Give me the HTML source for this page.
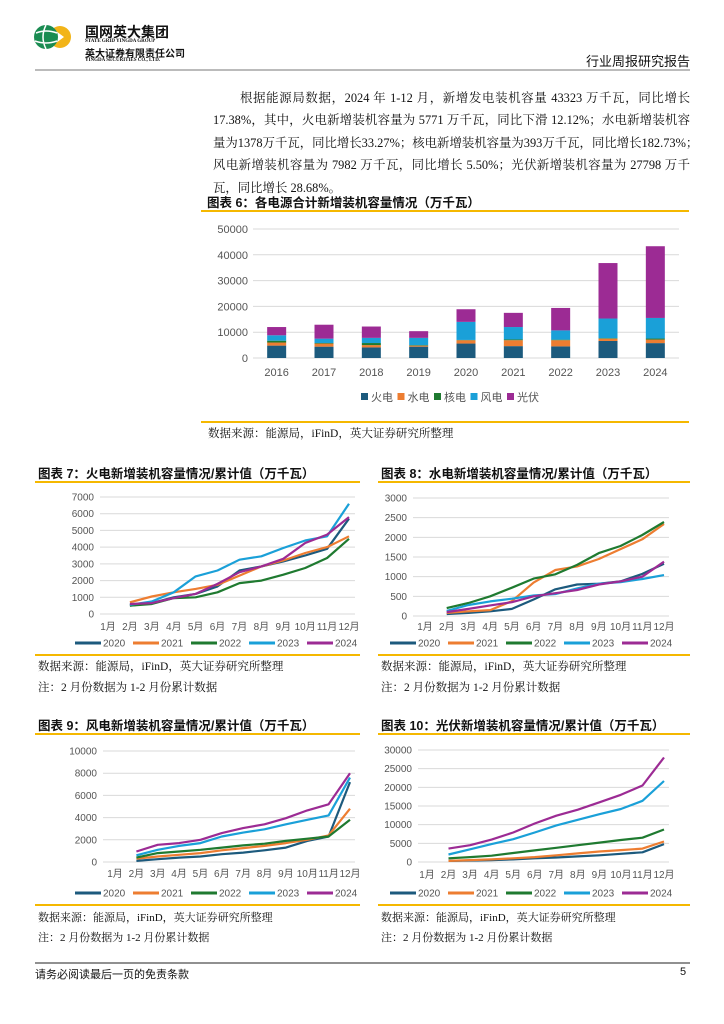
<!DOCTYPE html>
<html><head><meta charset="utf-8">
<style>
body{margin:0;background:#fff;}
#pg{position:relative;width:724px;height:1024px;overflow:hidden;font-family:"Liberation Serif","Noto Serif CJK SC",serif;color:#111;}
.a{position:absolute;white-space:nowrap;}
.p{position:absolute;left:213px;width:477px;font-size:12.4px;text-align:justify;text-align-last:justify;white-space:nowrap;}
.t{position:absolute;font-family:"Liberation Sans","Noto Sans CJK SC",sans-serif;font-weight:bold;font-size:12.5px;}
.y{position:absolute;height:2px;background:#f5b800;}
.s{position:absolute;font-size:11.5px;}
svg text{font-family:"Liberation Sans","Noto Sans CJK SC",sans-serif;fill:#555;}
</style></head><body>
<div id="pg">
<svg class="a" style="left:0;top:0" width="724" height="1024">
  <g>
    <circle cx="60" cy="37" r="11" fill="#f2b418"/>
    <polygon points="56,31 64,37 56,43" fill="#fff"/>
    <circle cx="46" cy="37" r="12" fill="#1a8c52"/>
    <path d="M36,33 Q46,29 57,33 M35,41 Q46,45 57,41 M46,25 Q40,37 46,49" stroke="#fff" stroke-width="1.5" fill="none"/>
  </g>
  <line x1="35" y1="70" x2="690" y2="70" stroke="#777" stroke-width="1"/>
  <line x1="35" y1="963" x2="690" y2="963" stroke="#222" stroke-width="1"/>
  <g id="c6"></g>
  <g id="c7"></g>
  <g id="c8"></g>
  <g id="c9"></g>
  <g id="c10"></g>
</svg>
<div class="a" style="left:85px;top:22px;font-family:'Liberation Sans','Noto Sans CJK SC',sans-serif;font-weight:bold;font-size:14px;">国网英大集团</div>
<div class="a" style="left:85px;top:39px;font-size:5px;font-weight:bold;">STATE GRID YINGDA GROUP</div>
<div class="a" style="left:85px;top:45px;font-family:'Liberation Sans','Noto Sans CJK SC',sans-serif;font-weight:bold;font-size:10px;">英大证券有限责任公司</div>
<div class="a" style="left:85px;top:58px;font-size:5px;font-weight:bold;">YINGDA SECURITIES CO., LTD.</div>
<div class="a" style="left:586px;top:51px;font-family:'Liberation Sans','Noto Sans CJK SC',sans-serif;font-size:13px;">行业周报研究报告</div>

<div class="p" style="top:88px;text-indent:27px;">根据能源局数据，2024 年 1-12 月，新增发电装机容量 43323 万千瓦，同比增长</div>
<div class="p" style="top:110px;">17.38%，其中，火电新增装机容量为 5771 万千瓦，同比下滑 12.12%；水电新增装机容</div>
<div class="p" style="top:133px;">量为1378万千瓦，同比增长33.27%；核电新增装机容量为393万千瓦，同比增长182.73%；</div>
<div class="p" style="top:155px;">风电新增装机容量为 7982 万千瓦，同比增长 5.50%；光伏新增装机容量为 27798 万千</div>
<div class="p" style="top:178px;text-align-last:left;">瓦，同比增长 28.68%。</div>

<div class="t" style="left:207px;top:192px;">图表 6：各电源合计新增装机容量情况（万千瓦）</div>
<div class="y" style="left:201px;top:210px;width:488px;"></div>
<div class="y" style="left:201px;top:421px;width:488px;"></div>
<div class="s" style="left:208px;top:425px;">数据来源：能源局，iFinD，英大证券研究所整理</div>

<div class="t" style="left:38px;top:463px;">图表 7：火电新增装机容量情况/累计值（万千瓦）</div>
<div class="y" style="left:35px;top:481px;width:325px;"></div>
<div class="y" style="left:35px;top:654px;width:325px;"></div>
<div class="s" style="left:38px;top:658px;">数据来源：能源局，iFinD，英大证券研究所整理</div>
<div class="s" style="left:38px;top:679px;">注：2 月份数据为 1-2 月份累计数据</div>

<div class="t" style="left:381px;top:463px;">图表 8：水电新增装机容量情况/累计值（万千瓦）</div>
<div class="y" style="left:378px;top:481px;width:312px;"></div>
<div class="y" style="left:378px;top:654px;width:312px;"></div>
<div class="s" style="left:381px;top:658px;">数据来源：能源局，iFinD，英大证券研究所整理</div>
<div class="s" style="left:381px;top:679px;">注：2 月份数据为 1-2 月份累计数据</div>

<div class="t" style="left:38px;top:715px;">图表 9：风电新增装机容量情况/累计值（万千瓦）</div>
<div class="y" style="left:35px;top:733px;width:325px;"></div>
<div class="y" style="left:35px;top:904px;width:325px;"></div>
<div class="s" style="left:38px;top:909px;font-size:11px;">数据来源：能源局，iFinD，英大证券研究所整理</div>
<div class="s" style="left:38px;top:929px;font-size:11px;">注：2 月份数据为 1-2 月份累计数据</div>

<div class="t" style="left:381px;top:715px;">图表 10：光伏新增装机容量情况/累计值（万千瓦）</div>
<div class="y" style="left:378px;top:733px;width:312px;"></div>
<div class="y" style="left:378px;top:904px;width:312px;"></div>
<div class="s" style="left:381px;top:909px;font-size:11px;">数据来源：能源局，iFinD，英大证券研究所整理</div>
<div class="s" style="left:381px;top:929px;font-size:11px;">注：2 月份数据为 1-2 月份累计数据</div>

<div class="a" style="left:35px;top:966px;font-family:'Liberation Sans','Noto Sans CJK SC',sans-serif;font-size:11px;">请务必阅读最后一页的免责条款</div>
<div class="a" style="left:680px;top:966px;font-family:'Liberation Sans',sans-serif;font-size:11px;">5</div>
</div>
<script>
const years6 = ['2016','2017','2018','2019','2020','2021','2022','2023','2024'];
const thermal6 = [4800,4400,4100,4400,5600,4600,4500,6600,5771];
const hydro6 = [1200,1200,900,400,1300,2300,2400,900,1378];
const nuclear6 = [700,200,800,200,100,300,200,200,393];
const wind6 = [2100,1700,2000,2800,7000,4800,3600,7600,7982];
const solar6 = [3200,5400,4400,2600,4900,5500,8700,21500,27798];
const ticks6 = [0,10000,20000,30000,40000,50000];
const seriesNames6 = ['火电','水电','核电','风电','光伏'];

const months = ['1月','2月','3月','4月','5月','6月','7月','8月','9月','10月','11月','12月'];
const lineYears = ['2020','2021','2022','2023','2024'];
const thermal2020 = [500,650,1000,1200,1650,2600,2850,3150,3500,3900,5700];
const thermal2021 = [700,1050,1300,1500,1750,2300,2850,3200,3650,4000,4650];
const thermal2022 = [500,600,950,1000,1300,1850,2000,2350,2750,3350,4500];
const thermal2023 = [550,750,1300,2250,2600,3250,3450,3950,4400,4650,6600];
const thermal2024 = [600,650,950,1200,1800,2500,2850,3300,4250,4750,5800];
const hydro2020 = [50,80,120,180,420,680,800,820,880,1070,1330];
const hydro2021 = [80,120,150,380,850,1170,1260,1450,1700,1950,2340];
const hydro2022 = [200,330,500,720,950,1060,1300,1600,1780,2060,2390];
const hydro2023 = [130,280,370,440,520,560,700,820,860,940,1040];
const hydro2024 = [100,180,270,350,500,580,660,800,880,1000,1380];
const wind2020 = [100,250,400,500,700,850,1050,1300,1900,2300,7200];
const wind2021 = [300,500,650,800,1050,1250,1450,1700,2000,2400,4800];
const wind2022 = [400,800,950,1100,1300,1500,1650,1900,2100,2300,3800];
const wind2023 = [600,1100,1450,1700,2300,2650,2950,3400,3800,4200,7600];
const wind2024 = [950,1550,1700,2000,2600,3050,3400,3950,4650,5200,8000];
const solar2020 = [300,400,500,700,1000,1200,1500,1800,2200,2600,4800];
const solar2021 = [300,500,700,1000,1300,1800,2300,2800,3200,3600,5500];
const solar2022 = [1000,1300,1700,2400,3100,3800,4500,5200,5900,6500,8700];
const solar2023 = [2000,3400,4800,6100,7900,9800,11300,12800,14200,16400,21700];
const solar2024 = [3600,4500,6000,7900,10300,12400,14000,16000,18000,20500,28000];
const ticks7 = [0,1000,2000,3000,4000,5000,6000,7000];
const ticks8 = [0,500,1000,1500,2000,2500,3000];
const ticks9 = [0,2000,4000,6000,8000,10000];
const ticks10 = [0,5000,10000,15000,20000,25000,30000];

const NS='http://www.w3.org/2000/svg';
const COLORS=['#1c5a7d','#ed7d31','#1f7a30','#1aa0d8','#9c2b94'];
function mk(parent,tag,attrs){const e=document.createElementNS(NS,tag);for(const k in attrs)e.setAttribute(k,attrs[k]);parent.appendChild(e);return e;}

(function(){
  const g=document.getElementById('c6');
  const x0=253,x1=679,y0=358,yTop=229,max=50000;
  const ys=v=>y0-(v/max)*(y0-yTop);
  const step=(x1-x0)/years6.length;
  const xc=i=>x0+step*(i+0.5);
  ticks6.forEach(t=>{
    const l=mk(g,'line',{x1:x0,x2:x1,y1:ys(t),y2:ys(t),stroke:'#d9d9d9','stroke-width':1});
    
    
    const tx=mk(g,'text',{x:248,y:ys(t)+4,'font-size':11,'text-anchor':'end'});tx.textContent=t;
    
    
  });
  const series=[thermal6,hydro6,nuclear6,wind6,solar6];
  years6.forEach((yr,i)=>{
    let acc=0;
    series.forEach((s,k)=>{
      const r=mk(g,'rect',{x:xc(i)-9.5,width:19,y:ys(acc+s[i]),height:ys(acc)-ys(acc+s[i]),fill:COLORS[k]});
      
      
      acc+=s[i];
    });
    const tx=mk(g,'text',{x:xc(i),y:376,'font-size':11,'text-anchor':'middle'});tx.textContent=yr;
    
    
  });
  let lx=361;
  seriesNames6.forEach((n,k)=>{
    const r=mk(g,'rect',{x:lx,y:393,width:7,height:7,fill:COLORS[k]});
    
    
    const tx=mk(g,'text',{x:lx+10,y:401,'font-size':11});tx.textContent=n;
    
    
    lx+=36.5;
  });
})();

function lineChart(id,data,ticks,c){
  const g=document.getElementById(id);
  const max=ticks[ticks.length-1];
  const ys=v=>c.y0-(v/max)*(c.y0-c.yTop);
  const xs=i=>c.m1+(c.m12-c.m1)*i/11;
  ticks.forEach(t=>{
    const l=mk(g,'line',{x1:c.gx0,x2:c.gx1,y1:ys(t),y2:ys(t),stroke:'#d9d9d9','stroke-width':1});
    
    
    const tx=mk(g,'text',{x:c.gx0-6,y:ys(t)+3.5,'font-size':10,'text-anchor':'end'});tx.textContent=t;
    
    
  });
  months.forEach((m,i)=>{
    const tx=mk(g,'text',{x:xs(i),y:c.ly,'font-size':10,'text-anchor':'middle'});tx.textContent=m;
    
    
  });
  data.forEach((s,k)=>{
    const pts=s.map((v,j)=>xs(j+1).toFixed(1)+','+ys(v).toFixed(1)).join(' ');
    const p=mk(g,'polyline',{points:pts,fill:'none',stroke:COLORS[k],'stroke-width':2.2,'stroke-linejoin':'round'});
    
    
    const lx=c.lgx+k*c.lgs;
    const l=mk(g,'line',{x1:lx,x2:lx+26,y1:c.lgy,y2:c.lgy,stroke:COLORS[k],'stroke-width':3});
    
    
    const tx=mk(g,'text',{x:lx+28,y:c.lgy+3.5,'font-size':10});tx.textContent=lineYears[k];
    
    
  });
}
lineChart('c7',[thermal2020,thermal2021,thermal2022,thermal2023,thermal2024],ticks7,
  {y0:614,yTop:497,m1:108,m12:349,gx0:100,gx1:355,ly:630,lgx:75,lgs:58,lgy:643});
lineChart('c8',[hydro2020,hydro2021,hydro2022,hydro2023,hydro2024],ticks8,
  {y0:616,yTop:498,m1:425,m12:664,gx0:413,gx1:669,ly:630,lgx:390,lgs:58,lgy:643});
lineChart('c9',[wind2020,wind2021,wind2022,wind2023,wind2024],ticks9,
  {y0:862,yTop:751,m1:115,m12:350,gx0:103,gx1:355,ly:877,lgx:75,lgs:58,lgy:893});
lineChart('c10',[solar2020,solar2021,solar2022,solar2023,solar2024],ticks10,
  {y0:862,yTop:750,m1:427,m12:664,gx0:418,gx1:669,ly:878,lgx:390,lgs:58,lgy:893});
</script>
</body></html>
